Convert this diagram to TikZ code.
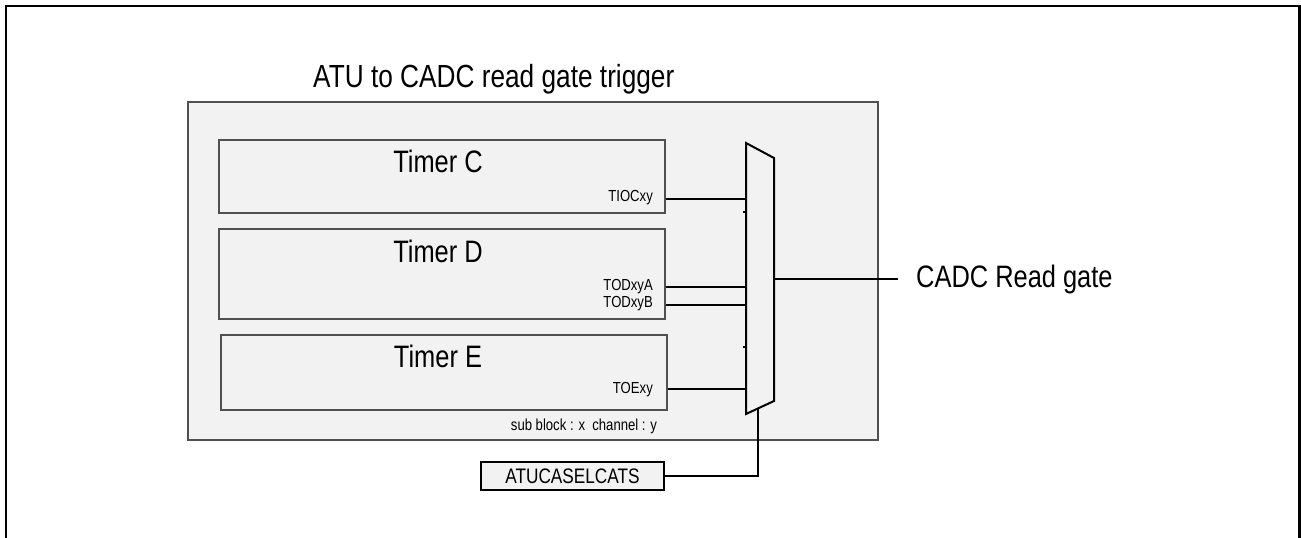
\documentclass[tikz,border=0pt]{standalone}
\usepackage{fontspec}
\setmainfont{Liberation Sans}[FakeStretch=0.82]
\definecolor{blockfill}{HTML}{F2F2F2}
\definecolor{boxline}{HTML}{505050}
\tikzset{
  frameline/.style={line width=2.4pt, black},
  outerblock/.style={draw=boxline, line width=1.3pt, fill=blockfill},
  timerbox/.style={draw=boxline, line width=1.4pt, fill=blockfill, inner sep=0pt},
  wire/.style={line width=1.8pt, black},
  muxline/.style={line width=2pt, black, line join=miter, fill=blockfill},
  biglabel/.style={font=\fontsize{31}{36}\selectfont, inner sep=0pt},
  siglabel/.style={font=\fontsize{16}{19}\selectfont, inner sep=0pt, anchor=base east},
  selbox/.style={draw=black, line width=1.3pt, fill=blockfill, inner sep=0pt,
    minimum width=183pt, minimum height=28pt, font=\fontsize{21}{25}\selectfont},
}
\begin{document}
\begin{tikzpicture}[x=1pt,y=-1pt]
\useasboundingbox (0,0) rectangle (1301,538);
% outer frame (open at bottom)
\draw[frameline] (6,538) -- (6,6) -- (1299.5,6) -- (1299.5,538);
% title
\node[biglabel, font=\fontsize{32}{37}\selectfont, anchor=base west] (title) at (313,87) {ATU to CADC read gate trigger};
% gray block
\node[outerblock, minimum width=690pt, minimum height=338pt, inner sep=0pt] (blk) at (533,271) {};
% timer boxes
\node[timerbox, minimum width=446pt, minimum height=73pt] (tc) at (442,176.5) {};
\node[timerbox, minimum width=446pt, minimum height=90pt] (td) at (442,274) {};
\node[timerbox, minimum width=446pt, minimum height=75pt] (te) at (444,372.5) {};
\node[biglabel, anchor=base] (tcl) at (438,172) {Timer C};
\node[biglabel, anchor=base] (tdl) at (438,262) {Timer D};
\node[biglabel, anchor=base] (tel) at (438,367) {Timer E};
\node[siglabel] (s1) at (653,201) {TIOCxy};
\node[siglabel] (s2) at (653,290) {TODxyA};
\node[siglabel] (s3) at (653,307) {TODxyB};
\node[siglabel] (s4) at (653,393) {TOExy};
\node[font=\fontsize{16}{19}\selectfont, inner sep=0pt, anchor=base] (note) at (584,430) {sub block : x\ \ channel : y};
% multiplexer
\coordinate (mtl) at (746,143);
\coordinate (mtr) at (774,158);
\coordinate (mbr) at (774,401);
\coordinate (mbl) at (746,414);
\draw[muxline] (mtl) -- (mtr) -- (mbr) -- (mbl) -- cycle;
\coordinate (in1) at (746,199);
\coordinate (in2) at (746,287);
\coordinate (in3) at (746,305);
\coordinate (in4) at (746,389);
\coordinate (nc1) at (746,212);
\coordinate (nc2) at (746,347);
\draw[wire] (nc1) -- +(-3,0);
\draw[wire] (nc2) -- +(-3,0);
\draw[wire] (tc.east |- in1) -- (in1);
\draw[wire] (td.east |- in2) -- (in2);
\draw[wire] (td.east |- in3) -- (in3);
\draw[wire] (te.east |- in4) -- (in4);
% output
\coordinate (mout) at (774,279);
\coordinate (oend) at (898,279);
\draw[wire] (mout) -- (oend);
\node[biglabel, anchor=west] (out) at (916,279) {CADC Read gate};
% select
\node[selbox] (sel) at (572.5,476) {ATUCASELCATS};
\coordinate (msel) at (758,408.4);
\draw[wire] (msel) |- (sel.east);
\end{tikzpicture}
\end{document}
